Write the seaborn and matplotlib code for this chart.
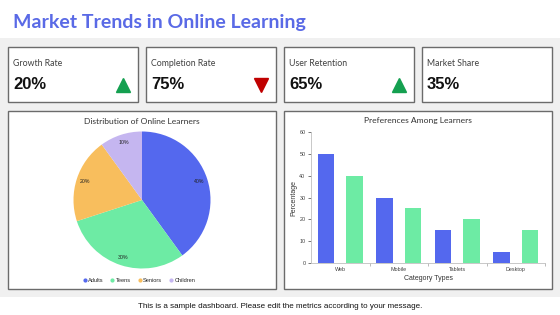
import matplotlib
matplotlib.use("Agg")
import matplotlib.pyplot as plt
from matplotlib.patches import Rectangle
from matplotlib.lines import Line2D
from matplotlib.ticker import FixedLocator
import seaborn as sns
import pandas as pd

# ---------------- data ----------------
title_text = "Market Trends in Online Learning"
kpi_labels = ["Growth Rate", "Completion Rate", "User Retention", "Market Share"]
kpi_values = ["20%", "75%", "65%", "35%"]
kpi_trends = ["up", "down", "up", None]

pie_title = "Distribution of Online Learners"
pie_labels = ["Adults", "Teens", "Seniors", "Children"]
pie_values = [40, 30, 20, 10]

bar_title = "Preferences Among Learners"
bar_categories = ["Web", "Mobile", "Tablets", "Desktop"]
series_names = ["Series 1", "Series 2"]
series_1 = [50, 30, 15, 5]
series_2 = [40, 25, 20, 15]
y_ticks = [0, 10, 20, 30, 40, 50, 60]

footer_text = "This is a sample dashboard. Please edit the metrics according to your message."

# ---------------- style ----------------
sns.set_theme(style="white")
plt.rcParams["font.family"] = ["Liberation Sans", "DejaVu Sans"]

BLUE = "#5468EE"
GREEN = "#6DEBA4"
ORANGE = "#F8BE5D"
LAVENDER = "#C5B6F0"
pie_colors = [BLUE, GREEN, ORANGE, LAVENDER]
bar_colors = [BLUE, GREEN]

W, H = 560, 315
fig = plt.figure(figsize=(W / 100, H / 100), dpi=100)
fig.patch.set_facecolor("white")


def px_rect(x0, y0, x1, y1):
    return [x0 / W, 1 - y1 / H, (x1 - x0) / W, (y1 - y0) / H]


# background axes in pixel coordinates
bg = fig.add_axes([0, 0, 1, 1], zorder=0)
bg.set_xlim(0, W)
bg.set_ylim(H, 0)
bg.axis("off")

bg.add_patch(Rectangle((0, 38), W, 259, facecolor="#F0F0F0", edgecolor="none"))
bg.text(13, 22.5, title_text, fontsize=14, fontweight="bold", color="#5A6AE6",
        family=["Lato", "DejaVu Sans"], va="center", ha="left")

# KPI cards
box_w, gap = 130, 8
for i, (lab, val, tr) in enumerate(zip(kpi_labels, kpi_values, kpi_trends)):
    x0 = 8 + i * (box_w + gap)
    bg.add_patch(Rectangle((x0, 47), box_w, 55, facecolor="white",
                           edgecolor="#6B6B6B", linewidth=1))
    bg.text(x0 + 5, 63.5, lab, fontsize=6.3, color="#404040",
            family=["Lato", "DejaVu Sans"], va="center", ha="left")
    bg.text(x0 + 5, 84.5, val, fontsize=12, fontweight="bold", color="#111111",
            va="center", ha="left")
    if tr == "up":
        bg.plot([x0 + 115], [84.5], marker="^", color="#14A050", markersize=10,
                linestyle="none")
    elif tr == "down":
        bg.plot([x0 + 115], [84.5], marker="v", color="#C00000", markersize=10,
                linestyle="none")

# panels
for x0 in (8, 284):
    bg.add_patch(Rectangle((x0, 111), 268, 178, facecolor="white",
                           edgecolor="#6B6B6B", linewidth=1))

bg.text(142, 121, pie_title, fontsize=6.1, color="#333333",
        family=["Lato", "DejaVu Sans"], ha="center", va="center")
bg.text(418, 121, bar_title, fontsize=6.1, color="#333333",
        family=["Lato", "DejaVu Sans"], ha="center", va="center")

bg.text(280, 307, footer_text, fontsize=5.75, color="#111111",
        ha="center", va="center")

# ---------------- pie ----------------
axp = fig.add_axes(px_rect(73.5, 131.5, 210.5, 268.5), zorder=2)
wedges, texts, autotexts = axp.pie(
    pie_values, colors=pie_colors, startangle=90, counterclock=False,
    autopct="%d%%", pctdistance=0.88,
    textprops=dict(fontsize=3.8, color="#222222"),
    wedgeprops=dict(linewidth=0))
axp.set_xlim(-1, 1)
axp.set_ylim(-1, 1)
axp.set_aspect("auto")
axp.axis("off")

handles = [Line2D([], [], marker="o", linestyle="none", markersize=2,
                  markerfacecolor=c, markeredgecolor=c) for c in pie_colors]
fig.legend(handles, pie_labels, loc="center", bbox_to_anchor=(139 / W, 1 - 280 / H),
           ncol=4, frameon=False, fontsize=4.1, handlelength=0.6,
           handletextpad=0.25, columnspacing=1.3, borderpad=0)

# ---------------- bars ----------------
df = pd.DataFrame({
    "Category": bar_categories * 2,
    "Percentage": series_1 + series_2,
    "Series": [series_names[0]] * len(bar_categories) + [series_names[1]] * len(bar_categories),
})

axb = fig.add_axes(px_rect(311, 132, 545, 263), zorder=2)
axb.set_facecolor("none")
sns.barplot(data=df, x="Category", y="Percentage", hue="Series",
            palette=bar_colors, width=0.98, gap=0.42, saturation=1,
            legend=False, ax=axb, linewidth=0, order=bar_categories)
axb.set_xlim(-0.5, len(bar_categories) - 0.5)
axb.set_ylim(y_ticks[0], y_ticks[-1])
axb.set_yticks(y_ticks)
axb.tick_params(axis="y", labelsize=3.9, colors="#404040", length=2, width=0.5,
                pad=2, left=True)
axb.tick_params(axis="x", which="major", labelsize=3.9, colors="#404040",
                length=0, pad=3)
axb.xaxis.set_minor_locator(FixedLocator([i + 0.5 for i in range(len(bar_categories))]))
axb.tick_params(axis="x", which="minor", length=2, width=0.5, color="#A0A0A0",
                bottom=True)
for s in ("top", "right"):
    axb.spines[s].set_visible(False)
for s in ("left", "bottom"):
    axb.spines[s].set_color("#BFBFBF")
    axb.spines[s].set_linewidth(0.6)
axb.set_xlabel("Category Types", fontsize=5, color="#333333", labelpad=2)
axb.set_ylabel("Percentage", fontsize=5, color="#333333", labelpad=1.5)

fig.savefig("out.png", dpi=100, facecolor="white")
